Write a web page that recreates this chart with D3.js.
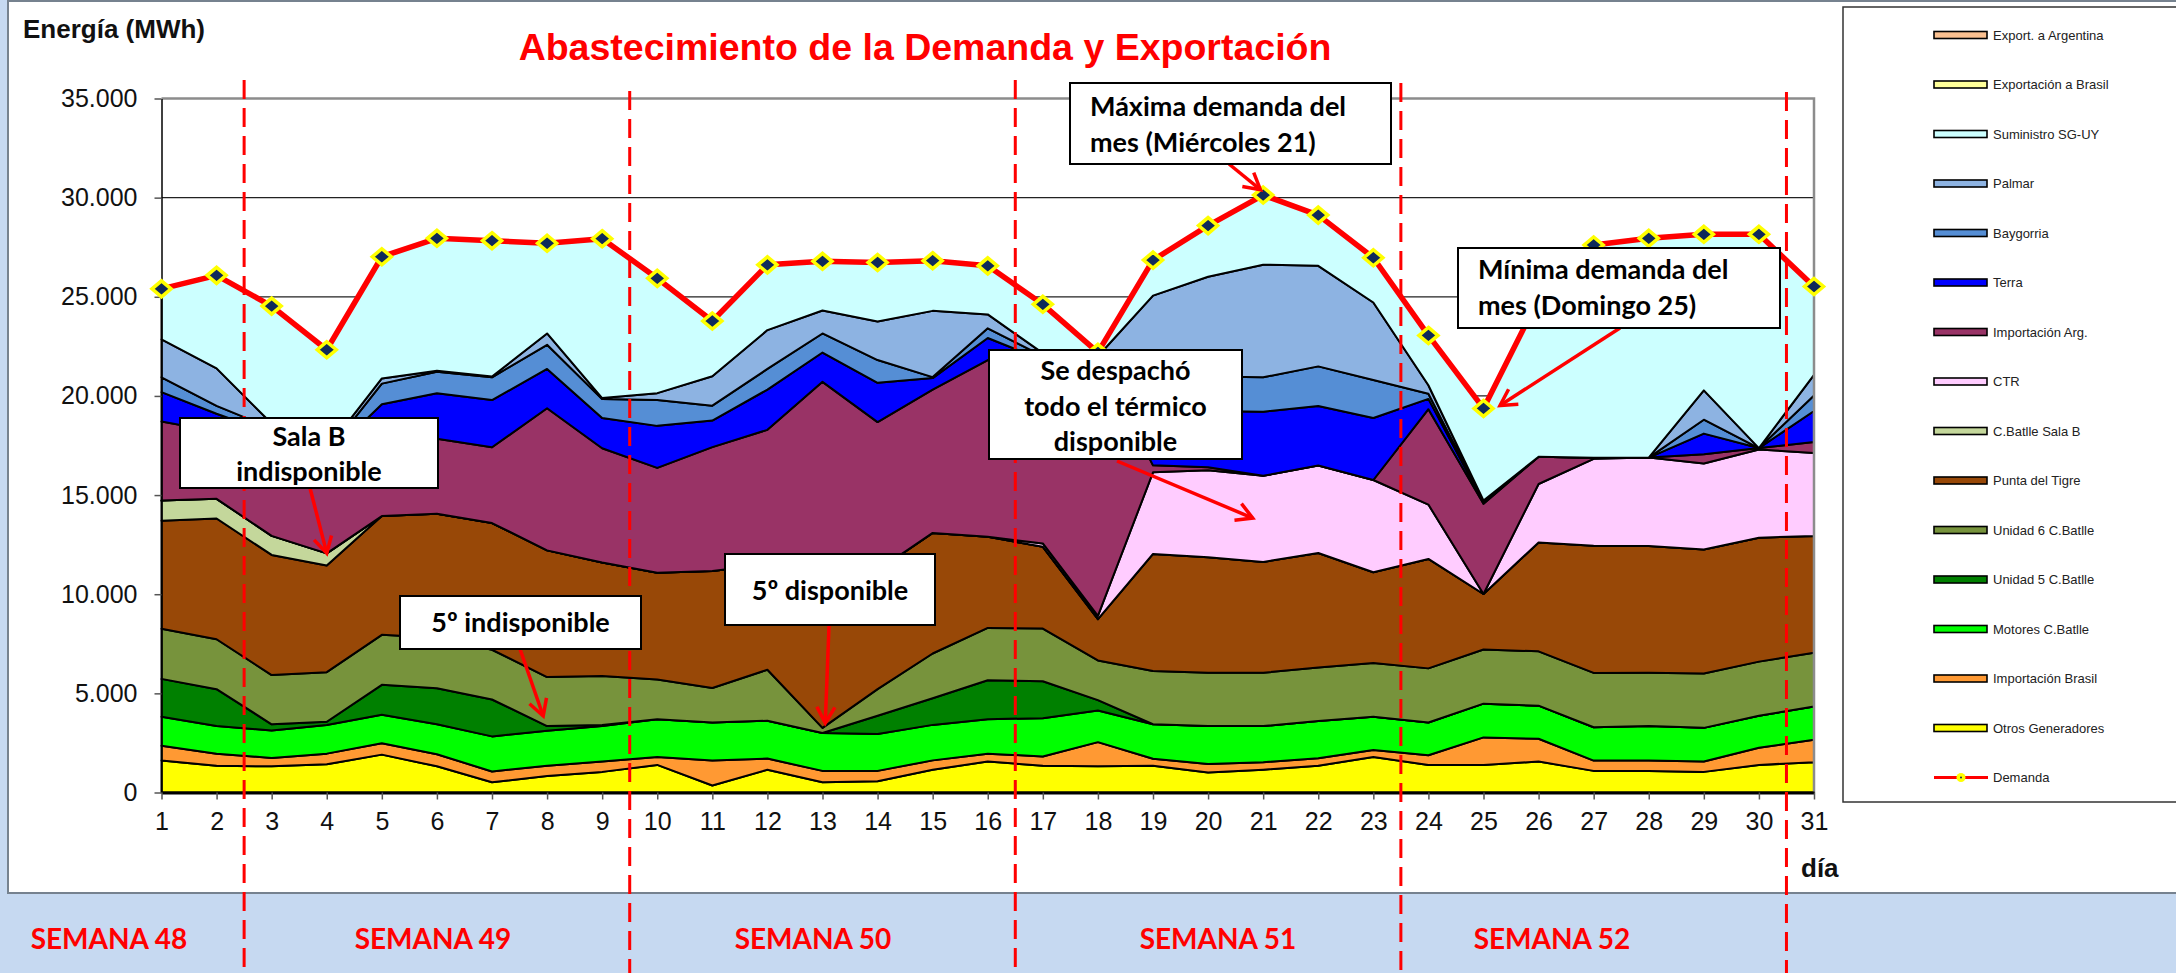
<!DOCTYPE html>
<html>
<head>
<meta charset="utf-8">
<script src="https://cdn.jsdelivr.net/npm/d3@7"></script>
<style>
  body { margin: 0; background: #c6d9f1; }
  svg { display: block; }
</style>
</head>
<body>
<div id="chart"></div>
<script>
// ---- datos (MWh por día) ----
var dias = [1,2,3,4,5,6,7,8,9,10,11,12,13,14,15,16,17,18,19,20,21,22,23,24,25,26,27,28,29,30,31];

var demanda = [25400,26080,24530,22330,27020,27950,27830,27700,27930,25930,23780,26610,26790,26730,26820,26560,24620,22200,26850,28590,30130,29120,26970,23050,19370,24900,27610,27950,28150,28150,25520];

var otrosGeneradores = [1610,1350,1320,1420,1910,1320,520,830,1040,1390,350,1150,520,570,1150,1560,1350,1320,1350,1010,1150,1350,1790,1390,1390,1560,1090,1090,1040,1390,1530];
var importacionBrasil = [750,610,420,540,570,610,540,520,520,400,1270,560,570,520,470,400,470,1220,350,430,380,380,350,490,1390,1150,520,520,520,870,1130];
var motoresCBatlle = [1460,1390,1390,1440,1440,1510,1770,1770,1790,1910,1910,1910,1910,1860,1790,1740,1930,1600,1740,1910,1820,1880,1680,1650,1700,1670,1680,1740,1700,1610,1680];
var unidad5 = [1910,1860,310,170,1510,1820,1860,230,50,0,0,0,0,920,1340,1960,1860,520,0,0,0,0,0,0,0,0,0,0,0,0,0];
var unidad6 = [2530,2520,2480,2500,2520,2540,2510,2470,2470,2000,1740,2570,260,1340,2260,2640,2660,2000,2690,2690,2690,2690,2710,2730,2730,2740,2740,2690,2740,2730,2710];
var puntaTigre = [5450,6090,6060,5380,5990,6260,6390,6390,5730,5380,5900,5320,8040,5990,6080,4600,4120,2080,5900,5820,5590,5780,4580,5520,2800,5490,6420,6390,6250,6250,5890];
var salaB = [1010,990,960,610,0,0,0,0,0,0,0,0,0,0,0,0,0,0,0,0,0,0,0,0,0,0,0,0,0,0,0];
var ctr = [0,0,0,0,0,0,0,0,0,0,0,0,0,0,0,0,170,170,4120,4390,4340,4410,4650,2740,0,2950,4380,4460,4340,4450,4180];
var importacionArg = [3990,3390,4770,4540,3760,3780,3820,7170,5760,5290,6250,6780,9410,7480,7230,8910,8950,13090,350,150,0,0,0,4810,4550,1370,50,0,470,70,560];
var terra = [1480,900,400,300,1880,2290,2380,1980,1530,2120,1340,2030,1480,1980,580,1110,300,0,2500,2840,3230,3000,3130,520,80,0,0,0,1040,0,1560];
var baygorria = [750,400,250,200,1040,1090,1150,1220,950,1300,750,1040,960,1150,50,490,200,0,1300,1740,1740,2000,1910,260,50,0,0,0,700,0,780];
var palmar = [1910,1890,250,200,260,50,40,570,50,350,1480,1960,1160,1940,3340,700,150,0,4760,5030,5680,5070,3910,430,40,0,0,0,1480,0,1040];
var suministroSGUY = [2550,4690,5930,5030,6140,6670,6860,4560,8040,5790,2810,3300,2480,2990,2550,2470,2470,200,1800,2580,3520,2560,2270,2520,4660,7970,10720,11060,7870,10790,4460];
var exportacionBrasil = [0,0,0,0,0,0,0,0,0,0,0,0,0,0,0,0,0,0,0,0,0,0,0,0,0,0,0,0,0,0,0];
var exportArgentina = [0,0,0,0,0,0,0,0,0,0,0,0,0,0,0,0,0,0,0,0,0,0,0,0,0,0,0,0,0,0,0];

var yTicks = [0,5000,10000,15000,20000,25000,30000,35000];
var semanas = ["SEMANA 48","SEMANA 49","SEMANA 50","SEMANA 51","SEMANA 52"];
var cortesSemana = [2.5, 9.5, 16.5, 23.5, 30.5];

// series de abajo hacia arriba
var series = [
  {name: "Otros Generadores", values: otrosGeneradores, color: "#ffff00"},
  {name: "Importación Brasil", values: importacionBrasil, color: "#ff9933"},
  {name: "Motores C.Batlle", values: motoresCBatlle, color: "#00ff00"},
  {name: "Unidad 5 C.Batlle", values: unidad5, color: "#008000"},
  {name: "Unidad 6 C.Batlle", values: unidad6, color: "#77933c"},
  {name: "Punta del Tigre", values: puntaTigre, color: "#984807"},
  {name: "C.Batlle Sala B", values: salaB, color: "#c4d79b"},
  {name: "CTR", values: ctr, color: "#ffccff"},
  {name: "Importación Arg.", values: importacionArg, color: "#993366"},
  {name: "Terra", values: terra, color: "#0000ff"},
  {name: "Baygorria", values: baygorria, color: "#558ed5"},
  {name: "Palmar", values: palmar, color: "#8db3e2"},
  {name: "Suministro SG-UY", values: suministroSGUY, color: "#ccffff"},
  {name: "Exportación a Brasil", values: exportacionBrasil, color: "#ffff99"},
  {name: "Export. a Argentina", values: exportArgentina, color: "#fac090"}
];

var W = 2176, H = 973;
var plot = {left: 161.5, right: 1814, top: 98.5, bottom: 792.5};

var svg = d3.select("#chart").append("svg")
  .attr("width", W).attr("height", H);

svg.append("defs").append("marker")
  .attr("id", "flecha")
  .attr("markerUnits", "userSpaceOnUse")
  .attr("markerWidth", 26).attr("markerHeight", 26)
  .attr("refX", 19).attr("refY", 12)
  .attr("orient", "auto")
  .append("path")
  .attr("d", "M3,3 L19,12 L3,21")
  .attr("fill", "none")
  .attr("stroke", "#ff0000")
  .attr("stroke-width", 3.5);

// fondo y panel
svg.append("rect").attr("width", W).attr("height", H).attr("fill", "#c6d9f1");
svg.append("rect")
  .attr("x", 8).attr("y", 1).attr("width", W).attr("height", 892)
  .attr("fill", "#ffffff").attr("stroke", "#76828f").attr("stroke-width", 2);

var x = d3.scaleLinear().domain([1, 31]).range([plot.left, plot.right]);
var y = d3.scaleLinear().domain([0, 35000]).range([plot.bottom, plot.top]);

var fmt = d3.formatLocale({decimal: ",", thousands: ".", grouping: [3], currency: ["", ""]}).format(",.0f");

// grilla
svg.append("g").selectAll("line")
  .data(yTicks.filter(function(t) { return t > 0 && t < 35000; }))
  .enter().append("line")
  .attr("x1", plot.left).attr("x2", plot.right)
  .attr("y1", function(d) { return y(d); }).attr("y2", function(d) { return y(d); })
  .attr("stroke", "#222").attr("stroke-width", 1.2);

// áreas apiladas
var tabla = dias.map(function(d, i) {
  var row = {dia: d};
  series.forEach(function(s) { row[s.name] = s.values[i]; });
  return row;
});
var stacked = d3.stack().keys(series.map(function(s) { return s.name; }))(tabla);

var area = d3.area()
  .x(function(d) { return x(d.data.dia); })
  .y0(function(d) { return y(d[0]); })
  .y1(function(d) { return y(d[1]); });

svg.append("g").selectAll("path")
  .data(stacked)
  .enter().append("path")
  .attr("d", area)
  .attr("fill", function(d, i) { return series[i].color; })
  .attr("stroke", "#000")
  .attr("stroke-width", 2)
  .attr("stroke-linejoin", "round");

// marco superior y derecho
svg.append("path")
  .attr("d", "M" + plot.left + "," + plot.top + "H" + plot.right + "V" + plot.bottom)
  .attr("fill", "none").attr("stroke", "#8c8c8c").attr("stroke-width", 2.5);

// ejes
var yAxis = svg.append("g")
  .attr("transform", "translate(" + plot.left + ",0)")
  .call(d3.axisLeft(y).tickValues(yTicks).tickFormat(fmt).tickSize(7).tickSizeOuter(0).tickPadding(17));
yAxis.select(".domain").attr("stroke", "#000").attr("stroke-width", 1.5);
yAxis.selectAll(".tick line").attr("stroke", "#555").attr("stroke-width", 1.5);
yAxis.selectAll("text")
  .attr("font-family", "'Liberation Sans', Arial, sans-serif")
  .attr("font-size", 25).attr("fill", "#111");

var xAxis = svg.append("g")
  .attr("transform", "translate(0," + plot.bottom + ")")
  .call(d3.axisBottom(x).tickValues(dias).tickFormat(d3.format("d")).tickSize(7).tickSizeOuter(0).tickPadding(13));
xAxis.select(".domain").attr("stroke", "#000").attr("stroke-width", 3);
xAxis.selectAll(".tick line").attr("stroke", "#555").attr("stroke-width", 1.5);
xAxis.selectAll("text")
  .attr("font-family", "'Liberation Sans', Arial, sans-serif")
  .attr("font-size", 25).attr("fill", "#111");

// separadores de semana
var topCorte = [80, 91, 80, 83, 92];
svg.append("g").selectAll("line")
  .data(cortesSemana)
  .enter().append("line")
  .attr("x1", function(d) { return x(d); }).attr("x2", function(d) { return x(d); })
  .attr("y1", function(d, i) { return topCorte[i]; }).attr("y2", H)
  .attr("stroke", "#ff0000").attr("stroke-width", 3)
  .attr("stroke-dasharray", "19,9");

// demanda
var linea = d3.line()
  .x(function(d, i) { return x(dias[i]); })
  .y(function(d) { return y(d); });

svg.append("path")
  .datum(demanda)
  .attr("d", linea)
  .attr("fill", "none")
  .attr("stroke", "#ff0000")
  .attr("stroke-width", 5.5)
  .attr("stroke-linejoin", "round");

svg.append("g").selectAll("path")
  .data(demanda)
  .enter().append("path")
  .attr("transform", function(d, i) { return "translate(" + x(dias[i]) + "," + y(d) + ")"; })
  .attr("d", "M0,-8 L9.5,0 L0,8 L-9.5,0 Z")
  .attr("fill", "#0f2a5a")
  .attr("stroke", "#ffff00")
  .attr("stroke-width", 3.5)
  .attr("stroke-linejoin", "miter");

// títulos
svg.append("text")
  .attr("x", 925).attr("y", 60)
  .attr("text-anchor", "middle")
  .attr("font-family", "'Liberation Sans', Arial, sans-serif")
  .attr("font-weight", "bold").attr("font-size", 37.5)
  .attr("fill", "#ff0000")
  .text("Abastecimiento de la Demanda y Exportación");

svg.append("text")
  .attr("x", 23).attr("y", 38)
  .attr("font-family", "'Liberation Sans', Arial, sans-serif")
  .attr("font-weight", "bold").attr("font-size", 26)
  .attr("fill", "#111")
  .text("Energía (MWh)");

svg.append("text")
  .attr("x", 1801).attr("y", 877)
  .attr("font-family", "'Liberation Sans', Arial, sans-serif")
  .attr("font-weight", "bold").attr("font-size", 26)
  .attr("fill", "#111")
  .text("día");

// etiquetas de semana
var semanaX = [109, 433, 813, 1218, 1552];
svg.append("g").selectAll("text")
  .data(semanas)
  .enter().append("text")
  .attr("x", function(d, i) { return semanaX[i]; })
  .attr("y", 949)
  .attr("text-anchor", "middle")
  .attr("font-family", "Lato, 'Noto Sans', sans-serif")
  .attr("font-weight", "bold").attr("font-size", 28)
  .attr("fill", "#ff0000")
  .text(function(d) { return d; });

// leyenda
svg.append("rect")
  .attr("x", 1843).attr("y", 7).attr("width", 400).attr("height", 795)
  .attr("fill", "#fff").attr("stroke", "#333").attr("stroke-width", 1.5);

var leyenda = series.slice().reverse().map(function(s) { return {name: s.name, color: s.color}; });
leyenda.push({name: "Demanda", color: null});

var lg = svg.append("g").selectAll("g")
  .data(leyenda)
  .enter().append("g")
  .attr("transform", function(d, i) { return "translate(1934," + (35 + i * 49.5) + ")"; });

lg.filter(function(d) { return d.color; })
  .append("rect")
  .attr("x", 0).attr("y", -3.5).attr("width", 53).attr("height", 7)
  .attr("fill", function(d) { return d.color; })
  .attr("stroke", "#000").attr("stroke-width", 1.6);

var lgDem = lg.filter(function(d) { return !d.color; });
lgDem.append("line")
  .attr("x1", 0).attr("x2", 54).attr("y1", 0).attr("y2", 0)
  .attr("stroke", "#ff0000").attr("stroke-width", 3);
lgDem.append("circle").attr("cx", 27).attr("cy", 0).attr("r", 4.5).attr("fill", "#ffff00");
lgDem.append("circle").attr("cx", 27).attr("cy", 0).attr("r", 1).attr("fill", "#0f2a5a");

lg.append("text")
  .attr("x", 59).attr("y", 0).attr("dy", "0.36em")
  .attr("font-family", "'Liberation Sans', Arial, sans-serif")
  .attr("font-size", 13).attr("fill", "#222")
  .text(function(d) { return d.name; });

// notas
var notas = [
  {box: [180, 418, 258, 70], lines: ["Sala B", "indisponible"], align: "middle", base: [446, 481],
   from: [310, 488], to: [4, 12070]},
  {box: [400, 596, 241, 53], lines: ["5º indisponible"], align: "middle", base: [632],
   from: [520, 649], to: [7.93, 3860]},
  {box: [725, 554, 210, 71], lines: ["5º disponible"], align: "middle", base: [600],
   from: [829, 626], to: [13.05, 3500]},
  {box: [989, 350, 253, 109], lines: ["Se despachó", "todo el térmico", "disponible"], align: "middle", base: [380, 416, 451],
   from: [1117, 461], to: [20.81, 13840]},
  {box: [1070, 83, 321, 81], lines: ["Máxima demanda del", "mes (Miércoles 21)"], align: "start", base: [116, 152],
   from: [1229, 164], to: [20.95, 30400]},
  {box: [1458, 248, 322, 80], lines: ["Mínima demanda del", "mes (Domingo 25)"], align: "start", base: [279, 315],
   from: [1620, 328], to: [25.3, 19520]}
];

var ng = svg.append("g").selectAll("g")
  .data(notas)
  .enter().append("g");

ng.append("line")
  .attr("x1", function(d) { return d.from[0]; })
  .attr("y1", function(d) { return d.from[1]; })
  .attr("x2", function(d) { return x(d.to[0]); })
  .attr("y2", function(d) { return y(d.to[1]); })
  .attr("stroke", "#ff0000").attr("stroke-width", 3.5)
  .attr("marker-end", "url(#flecha)");

ng.append("rect")
  .attr("x", function(d) { return d.box[0]; })
  .attr("y", function(d) { return d.box[1]; })
  .attr("width", function(d) { return d.box[2]; })
  .attr("height", function(d) { return d.box[3]; })
  .attr("fill", "#fff").attr("stroke", "#000").attr("stroke-width", 2);

ng.each(function(d) {
  var g = d3.select(this);
  d.lines.forEach(function(t, i) {
    g.append("text")
      .attr("x", d.align === "middle" ? d.box[0] + d.box[2] / 2 : d.box[0] + 20)
      .attr("y", d.base[i])
      .attr("text-anchor", d.align)
      .attr("font-family", "Lato, 'Noto Sans', sans-serif")
      .attr("font-weight", "bold").attr("font-size", 27)
      .attr("fill", "#000")
      .text(t);
  });
});
</script>
</body>
</html>
